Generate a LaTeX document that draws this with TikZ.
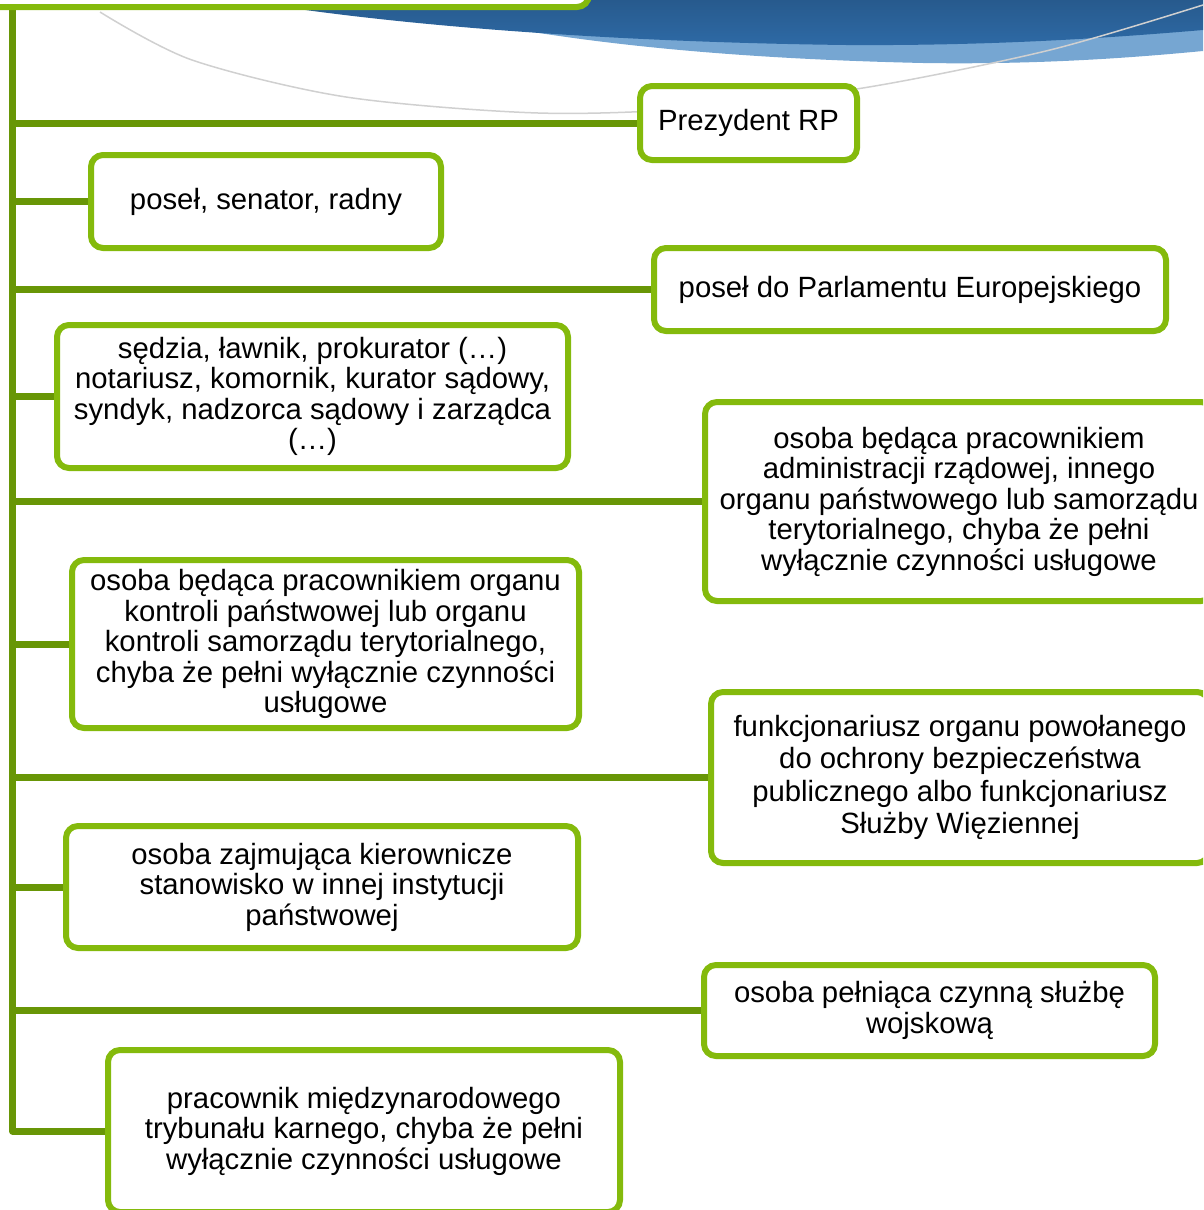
\documentclass[tikz,border=0pt]{standalone}
\usepackage{fontspec}
\setmainfont{Liberation Sans}
\usetikzlibrary{backgrounds}
\definecolor{boxgreen}{RGB}{132,186,12}
\definecolor{linegreen}{RGB}{104,150,6}
\definecolor{darkblue}{RGB}{46,106,166}
\definecolor{lightblue}{RGB}{118,166,210}
\definecolor{arcgrey}{RGB}{208,208,208}
\tikzset{
	box/.style={draw=boxgreen, line width=6pt, fill=white, rounded corners=12pt,
		align=center, inner sep=0pt, font=\fontsize{29.3}{30.5}\selectfont},
	branch/.style={draw=linegreen, line width=7pt, line join=round}
}

\begin{document}
\begin{tikzpicture}[x=1pt, y=-1pt]
	% 1203 x 1210, one unit = one pixel, y grows downwards
	\useasboundingbox (0,0) rectangle (1203,1210);
	\clip (0,0) rectangle (1203,1210);
	% blue swoosh behind the title
	\fill[lightblue] (380,0) .. controls (520,38) and (700,58) .. (923,63) .. controls (1050,65) and (1150,56) .. (1203,51) -- (1203,0) -- cycle;
	\shade[top color=darkblue!85!black, bottom color=darkblue] (240,0) .. controls (380,24) and (600,42) .. (846,45) .. controls (1000,46) and (1120,37) .. (1203,30) -- (1203,0) -- cycle;
	\draw[arcgrey, line width=1.5pt] plot[smooth] coordinates {(100,12) (192,60) (346,97) (538,113) (700,108) (869,87) (1050,50) (1203,5)};
	% title box, cut by the top edge
	\draw[box] (-30,-60) rectangle (589,7);
	\coordinate (root) at (12.5,5);
	
	% left column
	\node[box, minimum width=350pt, minimum height=93pt] (posel) at (266,201.5) {poseł, senator, radny};
	\node[box, minimum width=511pt, minimum height=143pt] (sedzia) at (312.5,396.5) {sędzia, ławnik, prokurator (…)\\ notariusz, komornik, kurator sądowy,\\ syndyk, nadzorca sądowy i zarządca\\ (…)};
	\node[box, minimum width=507pt, minimum height=168pt] (kontrola) at (325.5,644) {osoba będąca pracownikiem organu\\ kontroli państwowej lub organu\\ kontroli samorządu terytorialnego,\\ chyba że pełni wyłącznie czynności\\ usługowe};
	\node[box, minimum width=512pt, minimum height=122pt] (kierownik) at (322,887) {osoba zajmująca kierownicze\\ stanowisko w innej instytucji\\ państwowej};
	\node[box, minimum width=512pt, minimum height=162pt] (trybunal) at (364,1131) {pracownik międzynarodowego\\ trybunału karnego, chyba że pełni\\ wyłącznie czynności usługowe};
	
	% right column
	\node[box, minimum width=217pt, minimum height=74pt] (prezydent) at (748.5,123) {Prezydent RP};
	\node[box, minimum width=512pt, minimum height=83pt] (europosel) at (910,289.5) {poseł do Parlamentu Europejskiego};
	\node[box, minimum width=508pt, minimum height=199pt] (administracja) at (959,501.5) {osoba będąca pracownikiem\\ administracji rządowej, innego\\ organu państwowego lub samorządu\\ terytorialnego, chyba że pełni\\ wyłącznie czynności usługowe};
	\node[box, minimum width=498pt, minimum height=171pt, font=\fontsize{29.3}{32.5}\selectfont] (funkcjonariusz) at (960,777.5) {funkcjonariusz organu powołanego\\ do ochrony bezpieczeństwa\\ publicznego albo funkcjonariusz\\ Służby Więziennej};
	\node[box, minimum width=451pt, minimum height=91pt] (zolnierz) at (929.5,1010.5) {osoba pełniąca czynną służbę\\ wojskową};
	
	% trunk and branches
	\begin{pgfonlayer}{background}
		\draw[branch] (root) |- (prezydent.west);
		\draw[branch] (root) |- (posel.west);
		\draw[branch] (root) |- (europosel.west);
		\draw[branch] (root) |- (sedzia.west);
		\draw[branch] (root) |- (administracja.west);
		\draw[branch] (root) |- (kontrola.west);
		\draw[branch] (root) |- (funkcjonariusz.west);
		\draw[branch] (root) |- (kierownik.west);
		\draw[branch] (root) |- (zolnierz.west);
		\draw[branch] (root) |- (trybunal.west);
	\end{pgfonlayer}
\end{tikzpicture}
\end{document}
